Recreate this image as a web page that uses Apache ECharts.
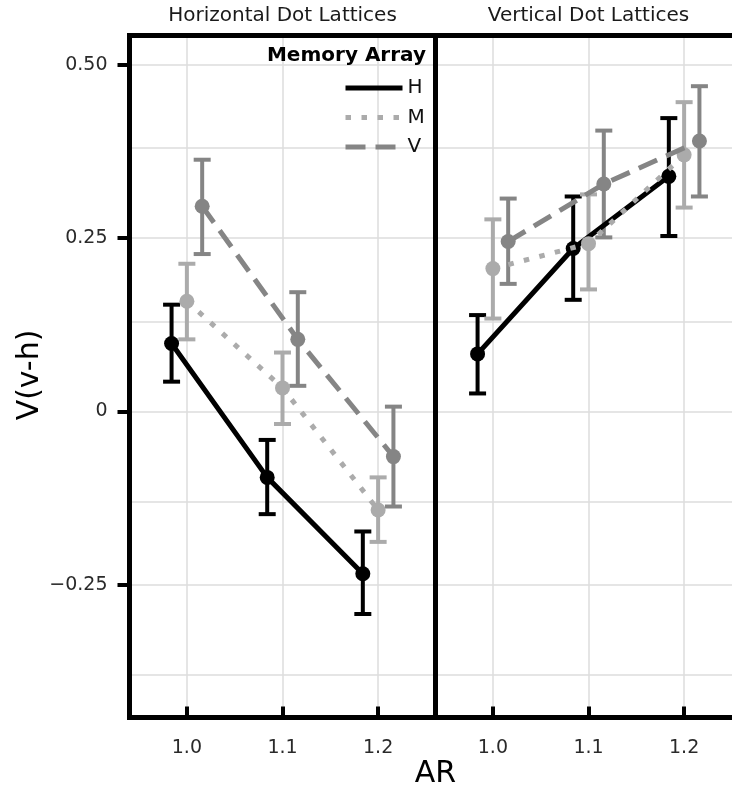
<!DOCTYPE html>
<html><head><meta charset="utf-8">
<script src="https://cdn.jsdelivr.net/npm/echarts@6/dist/echarts.min.js"></script>
<style>html,body{margin:0;padding:0;background:#fff}#c{width:732px;height:794px}</style>
</head><body><div id="c"></div>
<script>
// ---- data ----
const panelTitles = ['Horizontal Dot Lattices', 'Vertical Dot Lattices'];
const groups = ['H', 'M', 'V'];
const arLevels = [1.0, 1.1, 1.2];
// Horizontal Dot Lattices
const horizH   = [0.098, -0.095, -0.234];
const horizHLo = [0.043, -0.148, -0.292];
const horizHHi = [0.154, -0.041, -0.173];
const horizM   = [0.159, 0.034, -0.142];
const horizMLo = [0.104, -0.018, -0.188];
const horizMHi = [0.213, 0.085, -0.095];
const horizV   = [0.296, 0.104, -0.065];
const horizVLo = [0.227, 0.037, -0.137];
const horizVHi = [0.363, 0.172, 0.007];
// Vertical Dot Lattices
const vertH   = [0.083, 0.235, 0.339];
const vertHLo = [0.026, 0.161, 0.253];
const vertHHi = [0.139, 0.310, 0.423];
const vertM   = [0.206, 0.242, 0.370];
const vertMLo = [0.134, 0.176, 0.294];
const vertMHi = [0.277, 0.313, 0.446];
const vertV   = [0.245, 0.328, 0.390];
const vertVLo = [0.184, 0.251, 0.310];
const vertVHi = [0.307, 0.405, 0.469];
// ticks
const yTickValues = [-0.25, 0, 0.25, 0.5];
const yTickLabels = ['\u22120.25', '0', '0.25', '0.50'];
const yGridValues = [-0.375, -0.25, -0.125, 0, 0.125, 0.25, 0.375, 0.5];
const xTickValues = [1.0, 1.1, 1.2];
const xTickLabels = ['1.0', '1.1', '1.2'];
const legendTitle = 'Memory Array';
const xTitle = 'AR';
const yTitle = 'V(v-h)';

// ---- styles ----
const FONT = 'DejaVu Sans';
const dodge = { H: -0.016, M: 0, V: 0.016 };
const colors = { H: '#000000', M: '#ababab', V: '#858585' };
const lineTypes = { H: 'solid', M: [5.5, 10.5], V: [20, 10] };
const X_MIN = 0.94, X_MAX = 1.26, Y_MIN = -0.4412, Y_MAX = 0.5421;

const panelData = [
  { H: [horizH, horizHLo, horizHHi], M: [horizM, horizMLo, horizMHi], V: [horizV, horizVLo, horizVHi] },
  { H: [vertH, vertHLo, vertHHi], M: [vertM, vertMLo, vertMHi], V: [vertV, vertVLo, vertVHi] }
];

const grids = [0, 1].map(i => ({
  left: i === 0 ? 129.5 : 435.5, top: 35.5, width: 306, height: 682,
  outerBoundsMode: 'none', containLabel: false,
  show: true, z: 10, backgroundColor: 'transparent', borderColor: '#000', borderWidth: 5
}));

const xAxes = [0, 1].map(i => ({
  type: 'value', gridIndex: i, min: X_MIN, max: X_MAX, z: 8,
  axisLine: { show: false, onZero: false }, splitLine: { show: false },
  axisTick: { show: true, inside: true, length: 11, customValues: xTickValues, lineStyle: { color: '#000', width: 4 } },
  axisLabel: { show: true, margin: 21, customValues: xTickValues, fontFamily: FONT, fontSize: 19, color: '#2a2a2a',
    formatter: v => xTickLabels[xTickValues.findIndex(t => Math.abs(t - v) < 1e-6)] }
}));

const yAxes = [0, 1].map(i => ({
  type: 'value', gridIndex: i, min: Y_MIN, max: Y_MAX, z: 8,
  axisLine: { show: false, onZero: false }, splitLine: { show: false },
  axisTick: { show: i === 0, inside: false, length: 12, customValues: yTickValues, lineStyle: { color: '#000', width: 4 } },
  axisLabel: { show: i === 0, margin: 22, customValues: yTickValues, fontFamily: FONT, fontSize: 19, color: '#2a2a2a',
    formatter: v => yTickLabels[yTickValues.findIndex(t => Math.abs(t - v) < 1e-6)] }
}));

const series = [];
[0, 1].forEach(p => {
  // gridlines
  series.push({
    type: 'line', name: 'grid' + p, xAxisIndex: p, yAxisIndex: p, data: [], silent: true, z: 1,
    markLine: {
      silent: true, z: 1, animation: false, symbol: ['none', 'none'], label: { show: false },
      lineStyle: { color: '#dddddd', width: 1.5, type: 'solid' },
      emphasis: { disabled: true },
      data: [...yGridValues.map(v => ({ yAxis: v })), ...xTickValues.map(v => ({ xAxis: v }))]
    }
  });
  // error bars
  groups.forEach(g => {
    const [mid, lo, hi] = panelData[p][g];
    series.push({
      type: 'custom', name: 'err' + g + p, xAxisIndex: p, yAxisIndex: p, z: 2, silent: true,
      data: arLevels.map((x, k) => [x + dodge[g], lo[k], hi[k]]),
      encode: { x: 0, y: [1, 2] },
      renderItem: (params, api) => {
        const x = api.value(0);
        const a = api.coord([x, api.value(1)]);
        const b = api.coord([x, api.value(2)]);
        const hw = 8.5;
        const st = { stroke: colors[g], lineWidth: 4 };
        return { type: 'group', children: [
          { type: 'line', shape: { x1: a[0], y1: a[1], x2: b[0], y2: b[1] }, style: st },
          { type: 'line', shape: { x1: a[0] - hw, y1: a[1], x2: a[0] + hw, y2: a[1] }, style: st },
          { type: 'line', shape: { x1: b[0] - hw, y1: b[1], x2: b[0] + hw, y2: b[1] }, style: st }
        ]};
      }
    });
  });
  // lines + points
  groups.forEach((g, gi) => {
    const [mid] = panelData[p][g];
    series.push({
      type: 'line', name: g, xAxisIndex: p, yAxisIndex: p, z: 3 + gi,
      data: arLevels.map((x, k) => [x + dodge[g], mid[k]]),
      symbol: 'circle', symbolSize: 15, showSymbol: true,
      lineStyle: { color: colors[g], width: 5, type: lineTypes[g], cap: 'butt' },
      itemStyle: { color: colors[g] },
      emphasis: { disabled: true }, animation: false
    });
  });
});

const option = {
  animation: false,
  backgroundColor: '#fff',
  grid: grids, xAxis: xAxes, yAxis: yAxes, series,
  legend: {
    data: groups.map(g => ({ name: g, lineStyle: { width: 5, color: colors[g], type: lineTypes[g], cap: 'butt' } })),
    orient: 'vertical', left: 343, top: 78, padding: 0,
    itemWidth: 57, itemHeight: 20, itemGap: 9.5, selectedMode: false,
    itemStyle: { opacity: 0 },
    textStyle: { fontFamily: FONT, fontSize: 20, color: '#111' }
  },
  graphic: [
    { type: 'text', x: 282.5, y: 16, style: { text: panelTitles[0], fontFamily: FONT, fontSize: 20, fill: '#1a1a1a', align: 'center', verticalAlign: 'middle' } },
    { type: 'text', x: 588.5, y: 16, style: { text: panelTitles[1], fontFamily: FONT, fontSize: 20, fill: '#1a1a1a', align: 'center', verticalAlign: 'middle' } },
    { type: 'text', x: 426, y: 56, z: 20, style: { text: legendTitle, fontFamily: FONT, fontSize: 20, fontWeight: 'bold', fill: '#000', align: 'right', verticalAlign: 'middle' } },
    { type: 'text', x: 435.5, y: 774, style: { text: xTitle, fontFamily: FONT, fontSize: 30, fill: '#000', align: 'center', verticalAlign: 'middle' } },
    { type: 'text', x: 30, y: 375, rotation: Math.PI / 2, style: { text: yTitle, fontFamily: FONT, fontSize: 30, fill: '#000', align: 'center', verticalAlign: 'middle' } }
  ]
};
const chart = echarts.init(document.getElementById('c'), null, { renderer: 'canvas' });
chart.setOption(option);
</script>
</body></html>
